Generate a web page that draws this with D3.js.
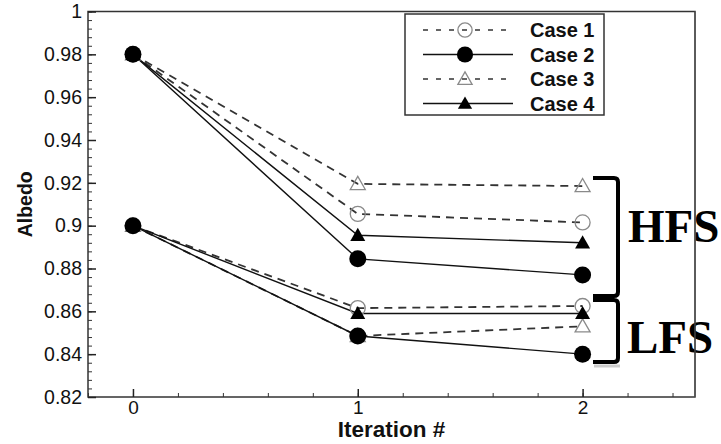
<!DOCTYPE html>
<html>
<head>
<meta charset="utf-8">
<script src="https://cdn.jsdelivr.net/npm/d3@7"></script>
<style>
  body { margin: 0; background: #fff; }
  svg { display: block; }
</style>
</head>
<body>
<script>
// iteration index and the four cases
var iterations = [0, 1, 2];
var cases = ["Case 1", "Case 2", "Case 3", "Case 4"];

// albedo per case, high flux set (HFS)
var hfsCase1 = [0.98, 0.9055, 0.9015];
var hfsCase2 = [0.98, 0.8845, 0.877];
var hfsCase3 = [0.98, 0.9195, 0.9185];
var hfsCase4 = [0.98, 0.8955, 0.892];

// albedo per case, low flux set (LFS)
var lfsCase1 = [0.9, 0.8615, 0.8625];
var lfsCase2 = [0.9, 0.8485, 0.840];
var lfsCase3 = [0.9, 0.8485, 0.853];
var lfsCase4 = [0.9, 0.859, 0.859];

var xTicks = [0, 1, 2];
var yTicks = [0.82, 0.84, 0.86, 0.88, 0.9, 0.92, 0.94, 0.96, 0.98, 1];

var width = 721, height = 444;
// note: "top" is a window global, so use plot* names
var plotL = 88, plotR = 695, plotT = 11.5, plotB = 397;

var font = "'Liberation Sans', Arial, Helvetica, sans-serif";

var svg = d3.select("body")
    .append("svg")
    .attr("width", width)
    .attr("height", height);

var x = d3.scaleLinear().domain([-0.2, 2.5]).range([plotL, plotR]);
var y = d3.scaleLinear().domain([0.82, 1]).range([plotB, plotT]);

// style per case: dashed/open for 1 & 3, solid/filled for 2 & 4
var style = {
    "Case 1": {dash: "8,6", marker: "circle", open: true},
    "Case 2": {dash: null, marker: "circle", open: false},
    "Case 3": {dash: "8,6", marker: "triangle", open: true},
    "Case 4": {dash: null, marker: "triangle", open: false}
};

var series = [
    {name: "Case 1", hfs: hfsCase1, lfs: lfsCase1},
    {name: "Case 3", hfs: hfsCase3, lfs: lfsCase3},
    {name: "Case 4", hfs: hfsCase4, lfs: lfsCase4},
    {name: "Case 2", hfs: hfsCase2, lfs: lfsCase2}
];

// frame
svg.append("rect")
    .attr("x", plotL).attr("y", plotT)
    .attr("width", plotR - plotL).attr("height", plotB - plotT)
    .attr("fill", "none").attr("stroke", "#333").attr("stroke-width", 1.5);

// minor ticks
var xMinor = d3.range(-0.2, 2.5, 0.2).map(function(d){ return Math.round(d * 10) / 10; });
svg.append("g")
    .attr("transform", "translate(0," + plotB + ")")
    .call(d3.axisBottom(x).tickValues(xMinor).tickSize(-4).tickFormat(""))
    .call(function(g){ g.select(".domain").remove(); })
    .selectAll("line").attr("stroke", "#333");

var yMinor = d3.range(0.824, 1, 0.004);
svg.append("g")
    .attr("transform", "translate(" + plotL + ",0)")
    .call(d3.axisLeft(y).tickValues(yMinor).tickSize(-4).tickFormat(""))
    .call(function(g){ g.select(".domain").remove(); })
    .selectAll("line").attr("stroke", "#333");

// major ticks + labels
var xAxis = svg.append("g")
    .attr("transform", "translate(0," + plotB + ")")
    .call(d3.axisBottom(x).tickValues(xTicks).tickSizeInner(-8).tickSizeOuter(0).tickPadding(4).tickFormat(d3.format("d")));
xAxis.select(".domain").remove();
xAxis.selectAll("line").attr("stroke", "#222").attr("stroke-width", 1.5);
xAxis.selectAll("text").attr("font-family", font).attr("font-size", 19).attr("fill", "#111");

var yAxis = svg.append("g")
    .attr("transform", "translate(" + plotL + ",0)")
    .call(d3.axisLeft(y).tickValues(yTicks).tickSizeInner(-8).tickSizeOuter(0).tickPadding(6).tickFormat(function(d){ return String(d); }));
yAxis.select(".domain").remove();
yAxis.selectAll("line").attr("stroke", "#222").attr("stroke-width", 1.5);
yAxis.selectAll("text").attr("font-family", font).attr("font-size", 19.5).attr("fill", "#111");

// axis titles
svg.append("text")
    .attr("x", (plotL + plotR) / 2).attr("y", 437)
    .attr("text-anchor", "middle")
    .attr("font-family", font).attr("font-weight", "bold").attr("font-size", 22.5)
    .attr("fill", "#111")
    .text("Iteration #");

svg.append("text")
    .attr("transform", "translate(32," + ((plotT + plotB) / 2) + ") rotate(-90)")
    .attr("text-anchor", "middle")
    .attr("font-family", font).attr("font-weight", "bold").attr("font-size", 19.5)
    .attr("fill", "#111")
    .text("Albedo");

// lines
var line = d3.line()
    .x(function(d, i){ return x(iterations[i]); })
    .y(function(d){ return y(d); });

function drawMarker(g, kind, open, cx, cy, scale) {
    scale = scale || 1;
    var m;
    if (kind === "circle") {
        m = g.append("circle").attr("cx", cx).attr("cy", cy)
            .attr("r", (open ? 7.5 : 8.5) * scale);
    } else {
        var s = 7.5 * scale;
        m = g.append("path")
            .attr("d", "M" + cx + "," + (cy - s) + "L" + (cx + s) + "," + (cy + s * 0.75) +
                "L" + (cx - s) + "," + (cy + s * 0.75) + "Z");
    }
    if (open) {
        m.attr("fill", "none").attr("stroke", "#8a8a8a").attr("stroke-width", 1.3);
    } else {
        m.attr("fill", "#000");
    }
}

var plot = svg.append("g");
series.forEach(function(s){
    var st = style[s.name];
    [s.hfs, s.lfs].forEach(function(vals){
        plot.append("path")
            .datum(vals)
            .attr("d", line)
            .attr("fill", "none")
            .attr("stroke", st.dash ? "#333" : "#111")
            .attr("stroke-width", st.dash ? 1.8 : 1.4)
            .attr("stroke-dasharray", st.dash);
    });
});
series.forEach(function(s){
    var st = style[s.name];
    [s.hfs, s.lfs].forEach(function(vals){
        vals.forEach(function(v, i){
            drawMarker(plot, st.marker, st.open, x(iterations[i]), y(v));
        });
    });
});

// legend
var lg = svg.append("g");
lg.append("rect")
    .attr("x", 405).attr("y", 14).attr("width", 199).attr("height", 101)
    .attr("fill", "#fff").attr("stroke", "#333").attr("stroke-width", 1.5);
cases.forEach(function(c, i){
    var st = style[c];
    var ly = 30 + i * 24.5;
    lg.append("line")
        .attr("x1", 423).attr("x2", 513).attr("y1", ly).attr("y2", ly)
        .attr("stroke", st.dash ? "#333" : "#111")
        .attr("stroke-width", st.dash ? 1.6 : 1.4)
        .attr("stroke-dasharray", st.dash ? "5,8" : null);
    drawMarker(lg, st.marker, st.open, 465, ly, 0.95);
    lg.append("text")
        .attr("x", 530).attr("y", ly + 7)
        .attr("font-family", font).attr("font-weight", "bold").attr("font-size", 20)
        .attr("fill", "#111")
        .text(c);
});

// HFS / LFS brackets
var ann = svg.append("g");
function bracket(y0, y1) {
    ann.append("path")
        .attr("d", "M593," + y0 + "H614Q618," + y0 + " 618," + (y0 + 4) +
            "V" + (y1 - 4) + "Q618," + y1 + " 614," + y1 + "H593")
        .attr("fill", "none").attr("stroke", "#000").attr("stroke-width", 4);
}
bracket(178, 296);
bracket(300, 362);
ann.append("line")
    .attr("x1", 594).attr("x2", 620).attr("y1", 366).attr("y2", 366)
    .attr("stroke", "#ccc").attr("stroke-width", 3);

ann.append("text")
    .attr("x", 628).attr("y", 242)
    .attr("font-family", "'Liberation Serif', 'Times New Roman', serif")
    .attr("font-weight", "bold").attr("font-size", 47)
    .attr("fill", "#000")
    .text("HFS");
ann.append("text")
    .attr("x", 627).attr("y", 353)
    .attr("font-family", "'Liberation Serif', 'Times New Roman', serif")
    .attr("font-weight", "bold").attr("font-size", 47)
    .attr("fill", "#000")
    .text("LFS");

// right border drawn over the annotation text, as in the picture
svg.append("line")
    .attr("x1", plotR).attr("x2", plotR).attr("y1", plotT).attr("y2", plotB)
    .attr("stroke", "#555").attr("stroke-width", 1.2);
</script>
</body>
</html>
